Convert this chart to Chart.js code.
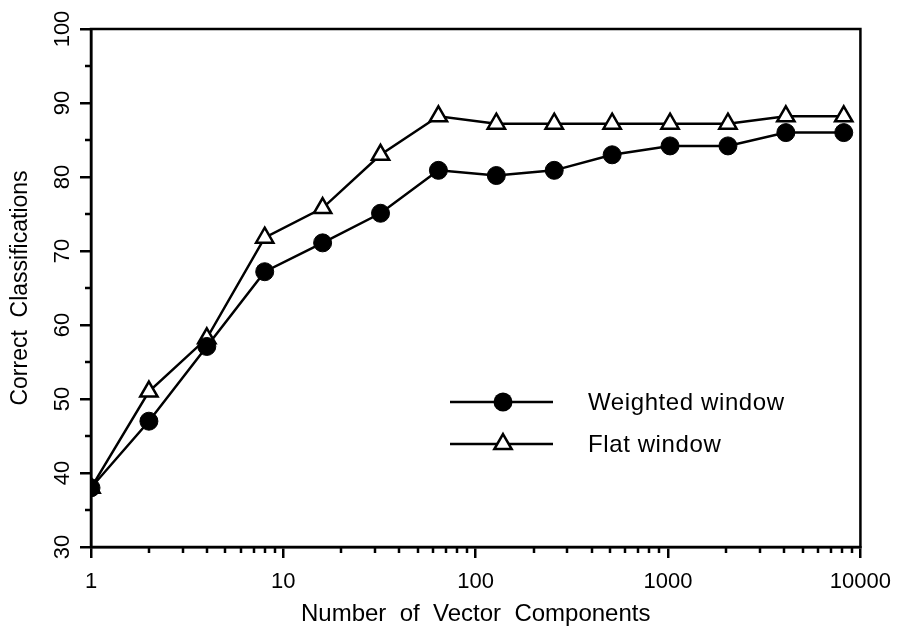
<!DOCTYPE html>
<html>
<head>
<meta charset="utf-8">
<script src="https://cdn.jsdelivr.net/npm/chart.js@4.4.1/dist/chart.umd.min.js"></script>
<style>
  html, body { margin: 0; padding: 0; background: #fff; }
</style>
</head>
<body>
<canvas id="chart" width="902" height="633"></canvas>
<script>
const components = [1, 2, 4, 8, 16, 32, 64, 128, 256, 512, 1024, 2048, 4096, 8192];
const weightedWindow = [38, 47, 57.1, 67.2, 71.1, 75.1, 80.9, 80.2, 80.9, 83, 84.2, 84.2, 86, 86];
const flatWindow = [38, 51, 58.2, 71.8, 75.8, 83, 88.2, 87.2, 87.2, 87.2, 87.2, 87.2, 88.2, 88.2];
const xTicks = [1, 10, 100, 1000, 10000];
const yTicks = [30, 40, 50, 60, 70, 80, 90, 100];
const seriesNames = ["Weighted window", "Flat window"];

const fontFamily = "'Liberation Sans', Arial, sans-serif";
const ink = "#000";

function points(values) {
  return components.map((x, i) => ({ x, y: values[i] }));
}

// frame, minor ticks and rotated y labels
const axesExtras = {
  id: "axesExtras",
  beforeDatasetsDraw(chart) {
    const { ctx, chartArea: a, scales: { x, y } } = chart;
    ctx.save();
    ctx.strokeStyle = ink;
    ctx.lineWidth = 2.5;
    ctx.strokeRect(a.left, a.top, a.right - a.left, a.bottom - a.top);

    ctx.beginPath();
    for (let d = 1; d < 10000; d *= 10) {
      for (let k = 2; k <= 9; k++) {
        const px = Math.round(x.getPixelForValue(d * k));
        ctx.moveTo(px, a.bottom);
        ctx.lineTo(px, a.bottom + 6);
      }
    }
    for (let v = 35; v < 100; v += 10) {
      const py = Math.round(y.getPixelForValue(v));
      ctx.moveTo(a.left, py);
      ctx.lineTo(a.left - 6, py);
    }
    ctx.stroke();

    ctx.fillStyle = ink;
    ctx.font = `22px ${fontFamily}`;
    ctx.textAlign = "center";
    ctx.textBaseline = "middle";
    yTicks.forEach(v => {
      ctx.save();
      ctx.translate(a.left - 28, y.getPixelForValue(v));
      ctx.rotate(-Math.PI / 2);
      ctx.fillText(String(v), 0, 0);
      ctx.restore();
    });
    ctx.restore();
  }
};

const insideLegend = {
  id: "insideLegend",
  afterDraw(chart) {
    const { ctx } = chart;
    const rows = [402, 444];
    ctx.save();
    ctx.lineWidth = 2.5;
    ctx.strokeStyle = ink;
    ctx.font = `24px ${fontFamily}`;
    if ("letterSpacing" in ctx) ctx.letterSpacing = "0.6px";
    ctx.textBaseline = "middle";
    ctx.textAlign = "left";
    rows.forEach((ry, i) => {
      ctx.beginPath();
      ctx.moveTo(450, ry);
      ctx.lineTo(553, ry);
      ctx.stroke();
      const mx = 503;
      if (i === 0) {
        ctx.beginPath();
        ctx.arc(mx, ry, 9.5, 0, Math.PI * 2);
        ctx.fillStyle = ink;
        ctx.fill();
      } else {
        const r = 10;
        ctx.beginPath();
        ctx.moveTo(mx, ry - r);
        ctx.lineTo(mx + r * Math.sin(Math.PI / 3), ry + r / 2);
        ctx.lineTo(mx - r * Math.sin(Math.PI / 3), ry + r / 2);
        ctx.closePath();
        ctx.fillStyle = "#fff";
        ctx.fill();
        ctx.stroke();
      }
      ctx.fillStyle = ink;
      ctx.fillText(seriesNames[i], 588, ry + 1);
    });
    ctx.restore();
  }
};

new Chart(document.getElementById("chart"), {
  type: "line",
  data: {
    datasets: [{
      label: seriesNames[0],
      data: points(weightedWindow),
      borderColor: ink,
      borderWidth: 2.5,
      backgroundColor: ink,
      pointStyle: "circle",
      pointRadius: 9,
      pointBorderWidth: 1,
      pointBackgroundColor: ink,
      pointBorderColor: ink,
      tension: 0
    }, {
      label: seriesNames[1],
      data: points(flatWindow),
      borderColor: ink,
      borderWidth: 2.5,
      backgroundColor: "#fff",
      pointStyle: "triangle",
      pointRadius: 10,
      pointBorderWidth: 2.5,
      pointBackgroundColor: "#fff",
      pointBorderColor: ink,
      tension: 0
    }]
  },
  options: {
    responsive: false,
    animation: false,
    events: [],
    layout: { padding: { top: 29, right: 36, left: 0, bottom: 0 } },
    plugins: {
      legend: { display: false },
      tooltip: { enabled: false }
    },
    scales: {
      x: {
        type: "logarithmic",
        min: 1,
        max: 10000,
        afterBuildTicks(scale) {
          scale.ticks = xTicks.map(v => ({ value: v, major: true }));
        },
        afterFit(scale) { scale.height = 86; },
        grid: { drawOnChartArea: false, drawTicks: true, tickLength: 11, color: ink, lineWidth: 2.5 },
        border: { display: true, color: ink, width: 2.5 },
        ticks: {
          color: ink,
          padding: 11,
          maxRotation: 0,
          autoSkip: false,
          font: { family: fontFamily, size: 22 },
          callback: v => String(v)
        },
        title: {
          display: true,
          text: "Number  of  Vector  Components",
          color: ink,
          font: { family: fontFamily, size: 24 },
          padding: { top: 0, bottom: 4 }
        }
      },
      y: {
        min: 30,
        max: 100,
        afterBuildTicks(scale) {
          scale.ticks = yTicks.map(v => ({ value: v }));
        },
        afterFit(scale) { scale.width = 91; },
        grid: { drawOnChartArea: false, drawTicks: true, tickLength: 11, color: ink, lineWidth: 2.5 },
        border: { display: true, color: ink, width: 2.5 },
        ticks: { display: false },
        title: {
          display: true,
          text: "Correct  Classifications",
          color: ink,
          font: { family: fontFamily, size: 23 },
          padding: { top: 7, bottom: 0 }
        }
      }
    }
  },
  plugins: [axesExtras, insideLegend]
});
</script>
</body>
</html>
